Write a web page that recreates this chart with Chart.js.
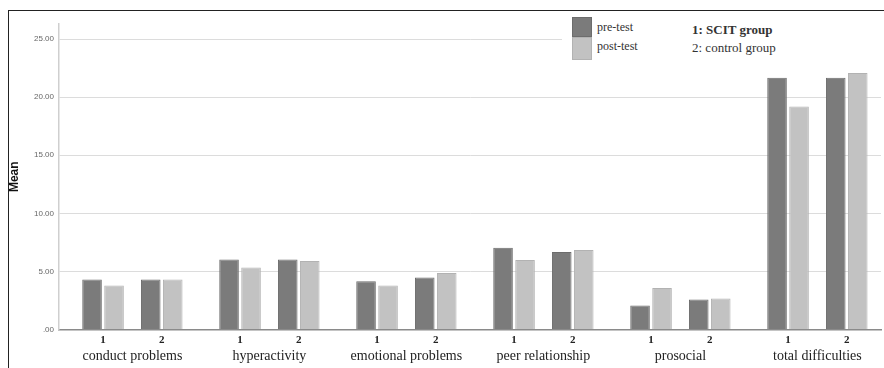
<!DOCTYPE html>
<html>
<head>
<meta charset="utf-8">
<script src="https://cdn.jsdelivr.net/npm/chart.js@4.4.0/dist/chart.umd.min.js"></script>
<style>
  body { margin: 0; background: #fff; }
  #wrap { position: relative; width: 884px; height: 368px; background: #fff; overflow: hidden; }
  #frame { position: absolute; left: 8px; top: 10px; right: -4px; bottom: -4px; border-left: 1.5px solid #222; border-top: 1.5px solid #222; }
  #legend { position: absolute; left: 562px; top: 12px; width: 322px; height: 50px; background: #fff; font-family: "Liberation Serif", serif; color: #333; }
  .sw { position: absolute; left: 10px; width: 20px; box-sizing: border-box; }
  .lt { position: absolute; left: 35px; font-size: 12px; line-height: 14px; white-space: nowrap; }
  .note { position: absolute; left: 130px; font-size: 13px; line-height: 15px; white-space: nowrap; }
</style>
</head>
<body>
<div id="wrap">
  <canvas id="chart" width="884" height="368"></canvas>
  <div id="frame"></div>
  <div id="legend"></div>
</div>
<script>
const groups = ["conduct problems", "hyperactivity", "emotional problems", "peer relationship", "prosocial", "total difficulties"];
const groupCodes = ["1", "2"];
const groupNotes = ["1: SCIT group", "2: control group"];
const seriesNames = ["pre-test", "post-test"];
// order: group 1 / group 2 for each measure
const preTest = [4.30, 4.30, 6.02, 6.02, 4.16, 4.47, 7.04, 6.67, 2.07, 2.59, 21.68, 21.68];
const postTest = [3.79, 4.30, 5.33, 5.90, 3.79, 4.87, 5.98, 6.84, 3.58, 2.67, 19.19, 22.08];
const yTicks = [0, 5, 10, 15, 20, 25];
const yTickLabels = [".00", "5.00", "10.00", "15.00", "20.00", "25.00"];

const colors = ["#7b7b7b", "#c2c2c2"];
const borders = ["#6c6c6c", "#b2b2b2"];

// spread the pairs over narrow slots so the gaps between measures are wider
const codeLabels = [], nameLabels = [], preData = [], postData = [];
function pushSlot(code, name, pre, post) {
  codeLabels.push(code);
  nameLabels.push(name);
  preData.push(pre);
  postData.push(post);
}
for (let i = 0; i < 4; i++) pushSlot("", "", null, null);
groups.forEach((g, gi) => {
  groupCodes.forEach((c, ci) => {
    const k = gi * 2 + ci;
    pushSlot(c, "", preTest[k], postTest[k]);
    if (ci === 0) {
      for (let s = 1; s <= 5; s++) pushSlot("", s === 3 ? g : "", null, null);
    }
  });
  if (gi < groups.length - 1) {
    for (let s = 1; s <= 7; s++) pushSlot("", "", null, null);
  }
});
for (let i = 0; i < 3; i++) pushSlot("", "", null, null);

const slotWidth = (884 - 3 - 59) / codeLabels.length;

const chart = new Chart(document.getElementById("chart"), {
  type: "bar",
  data: {
    labels: codeLabels.map((c, i) => String(i)),
    datasets: [
      { label: seriesNames[0], data: preData, backgroundColor: colors[0], borderColor: borders[0], borderWidth: 1 },
      { label: seriesNames[1], data: postData, backgroundColor: colors[1], borderColor: borders[1], borderWidth: 1 },
    ],
  },
  options: {
    responsive: false,
    devicePixelRatio: 1,
    animation: false,
    categoryPercentage: 44 / slotWidth,
    barPercentage: 0.89,
    layout: { padding: { top: 24, left: 0, right: 3, bottom: 0 } },
    plugins: { legend: { display: false }, tooltip: { enabled: false } },
    scales: {
      x: {
        offset: true,
        grid: { display: false, drawTicks: false },
        border: { color: "#8a8a8a", width: 1.5 },
        ticks: {
          autoSkip: false, maxRotation: 0, minRotation: 0, padding: 4,
          color: "#222",
          font: { family: "Liberation Serif", size: 11, weight: "bold" },
          callback: (v, i) => codeLabels[i],
        },
        afterFit: (s) => { s.height = 18; },
      },
      x2: {
        type: "category",
        position: "bottom",
        labels: nameLabels.map((n, i) => String(i)),
        offset: true,
        grid: { display: false, drawTicks: false },
        border: { display: false },
        ticks: {
          autoSkip: false, maxRotation: 0, minRotation: 0, padding: 0,
          color: "#222",
          font: { family: "Liberation Serif", size: 14 },
          callback: (v, i) => nameLabels[i],
        },
        afterFit: (s) => { s.height = 20.5; },
      },
      y: {
        min: 0,
        max: 26.3,
        afterBuildTicks: (s) => { s.ticks = yTicks.map((v) => ({ value: v })); },
        grid: { color: "#dcdcdc", drawTicks: false },
        border: { color: "#cfcfcf", width: 1.5 },
        ticks: {
          padding: 5,
          color: "#666",
          font: { family: "Liberation Sans", size: 8 },
          callback: (v) => yTickLabels[yTicks.indexOf(v)],
        },
        title: {
          display: true,
          text: "Mean",
          color: "#111",
          font: { family: "Liberation Sans", size: 12, weight: "bold" },
          padding: { top: 7, bottom: 0 },
        },
        afterFit: (s) => { s.width = 59; },
      },
    },
  },
});

// legend built from the datasets
const legend = document.getElementById("legend");
chart.data.datasets.forEach((ds, i) => {
  const sw = document.createElement("div");
  sw.className = "sw";
  sw.style.top = (i === 0 ? 5 : 25) + "px";
  sw.style.height = (i === 0 ? 20 : 23) + "px";
  sw.style.background = ds.backgroundColor;
  sw.style.border = "1px solid " + ds.borderColor;
  legend.appendChild(sw);
  const t = document.createElement("div");
  t.className = "lt";
  t.style.top = (i === 0 ? 8 : 27) + "px";
  t.textContent = ds.label;
  legend.appendChild(t);
});
groupNotes.forEach((n, i) => {
  const t = document.createElement("div");
  t.className = "note";
  t.style.top = (i === 0 ? 10 : 28) + "px";
  if (i === 0) t.style.fontWeight = "bold";
  t.textContent = n;
  legend.appendChild(t);
});
</script>
</body>
</html>
